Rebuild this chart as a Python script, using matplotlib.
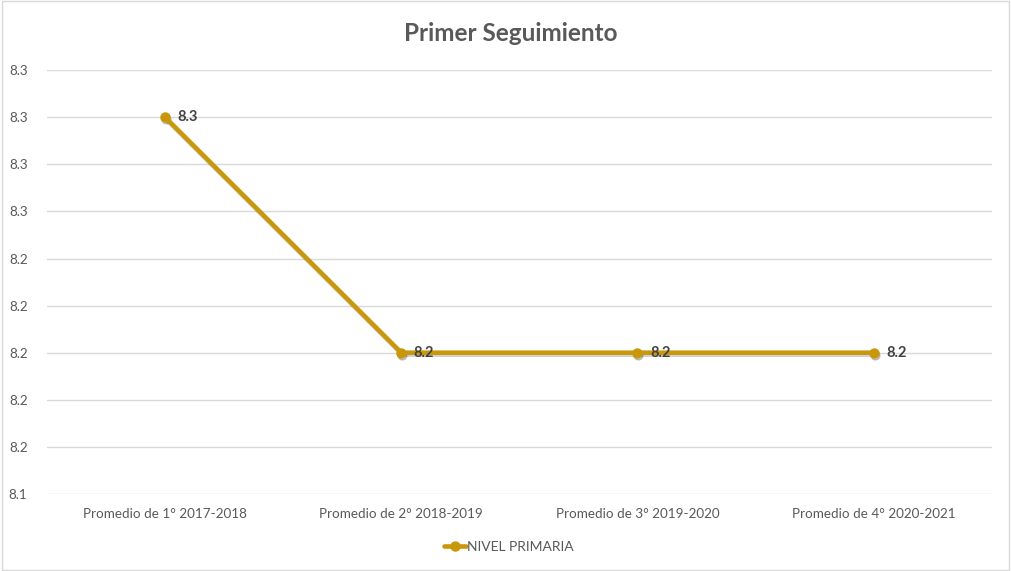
import matplotlib.pyplot as plt
import matplotlib.patches as patches
import matplotlib.patheffects as pe

plt.rcParams['font.family'] = ['Lato', 'DejaVu Sans']

categories = ["Promedio de 1° 2017-2018", "Promedio de 2° 2018-2019",
              "Promedio de 3° 2019-2020", "Promedio de 4° 2020-2021"]
values = [8.30, 8.20, 8.20, 8.20]
series_name = "NIVEL PRIMARIA"
y_ticks = [8.14, 8.16, 8.18, 8.20, 8.22, 8.24, 8.26, 8.28, 8.30, 8.32]

gold = '#C9980A'
gray = '#595959'

fig = plt.figure(figsize=(10.11, 5.71), dpi=100)
ax = fig.add_axes([0.0465, 0.1349, 0.9345, 0.7422])

# outer chart border
fig.patches.append(patches.Rectangle((0.002, 0.002), 0.996, 0.996, transform=fig.transFigure,
                                     fill=False, ec='#D9D9D9', lw=1))

x = list(range(len(categories)))
# soft shadow under the line
ax.plot(x, values, color='black', alpha=0.18, lw=3.3, marker='o', ms=6.5,
        transform=ax.transData + plt.matplotlib.transforms.ScaledTranslation(1/100, -2/100, fig.dpi_scale_trans))
line, = ax.plot(x, values, color=gold, lw=3.3, marker='o', ms=6.5, mec=gold, label=series_name,
                solid_capstyle='round')

for xi, v in zip(x, values):
    ax.annotate(f"{v:.1f}", (xi, v), xytext=(9, 0), textcoords='offset points',
                ha='left', va='center', fontsize=10.5, fontweight='bold', color='#404040')

ax.set_xlim(-0.5, len(categories) - 0.5)
ax.set_ylim(y_ticks[0], y_ticks[-1])
ax.set_yticks(y_ticks)
ax.set_yticklabels([f"{t:.1f}" for t in y_ticks])
ax.set_xticks(x)
ax.set_xticklabels(categories)
ax.tick_params(axis='both', length=0, labelsize=9.7, colors=gray)
ax.tick_params(axis='x', pad=10)
ax.tick_params(axis='y', pad=14)
ax.grid(axis='y', color='#D9D9D9', lw=1)
ax.set_axisbelow(True)
for s in ax.spines.values():
    s.set_visible(False)

fig.text(0.505, 0.942, "Primer Seguimiento", ha='center', va='center',
         fontsize=17.5, fontweight='bold', color=gray)

fig.legend(handles=[line], loc='center', bbox_to_anchor=(0.503, 0.042), frameon=False,
           fontsize=10, labelcolor=gray, handlelength=1.6, handletextpad=0.05)

plt.savefig('out.png', dpi=100)
plt.close()
